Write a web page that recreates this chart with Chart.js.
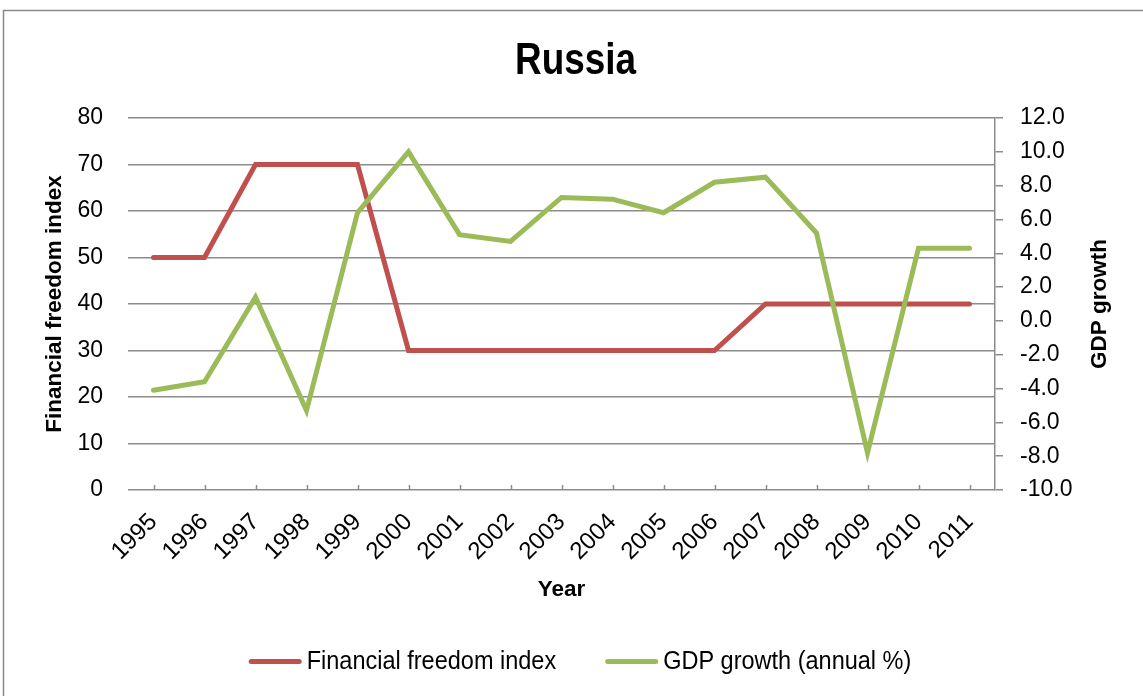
<!DOCTYPE html>
<html>
<head>
<meta charset="utf-8">
<script src="https://cdn.jsdelivr.net/npm/chart.js@4.4.1/dist/chart.umd.min.js"></script>
<style>
  html, body { margin: 0; padding: 0; background: #fff; }
  #wrap { width: 1143px; height: 696px; position: relative; }
</style>
</head>
<body>
<div id="wrap"><canvas id="chart" width="1143" height="696"></canvas></div>
<script>
// Russia: financial freedom index vs. annual GDP growth
const years = ['1995', '1996', '1997', '1998', '1999', '2000', '2001', '2002', '2003',
               '2004', '2005', '2006', '2007', '2008', '2009', '2010', '2011'];
const financialFreedom = [50, 50, 70, 70, 70, 30, 30, 30, 30, 30, 30, 30, 40, 40, 40, 40, 40];
const gdpGrowth = [-4.1, -3.6, 1.4, -5.3, 6.4, 10.0, 5.1, 4.7, 7.3, 7.2, 6.4, 8.2, 8.5, 5.2, -7.8, 4.3, 4.3];
const freedomTicks = [0, 10, 20, 30, 40, 50, 60, 70, 80];
const growthTicks = [-10, -8, -6, -4, -2, 0, 2, 4, 6, 8, 10, 12];

const RED = '#C0504D';
const GREEN = '#9BBB59';
const GRID = '#8c8c8c';
const SANS = '"Liberation Sans", Arial, sans-serif';

// Draws text squeezed horizontally to get a condensed face
function condensedText(ctx, text, x, y, font, squeeze, align) {
  ctx.save();
  ctx.font = font;
  ctx.fillStyle = '#000';
  ctx.textBaseline = 'alphabetic';
  ctx.textAlign = align;
  ctx.translate(x, y);
  ctx.scale(squeeze, 1);
  ctx.fillText(text, 0, 0);
  ctx.restore();
}

// Outer frame around the whole chart
const framePlugin = {
  id: 'frame',
  beforeDraw(chart) {
    const ctx = chart.ctx;
    ctx.save();
    ctx.fillStyle = '#fff';
    ctx.fillRect(0, 0, chart.width, chart.height);
    ctx.strokeStyle = '#8a8a8a';
    ctx.lineWidth = 1.5;
    ctx.strokeRect(3.5, 10.5, chart.width + 20, chart.height + 20);
    ctx.restore();
  }
};

// Short upward tick marks on the category axis, one per year
const categoryTickPlugin = {
  id: 'categoryTicks',
  beforeDatasetsDraw(chart) {
    const x = chart.scales.x;
    const bottom = chart.chartArea.bottom;
    const ctx = chart.ctx;
    ctx.save();
    ctx.strokeStyle = GRID;
    ctx.lineWidth = 1.5;
    ctx.beginPath();
    x.ticks.forEach((t, i) => {
      const px = Math.round(x.getPixelForTick(i)) + 0.5;
      ctx.moveTo(px, bottom);
      ctx.lineTo(px, bottom - 5);
    });
    ctx.stroke();
    ctx.restore();
  }
};

// Chart title, right-axis title and the legend row
const textPlugin = {
  id: 'chartTexts',
  afterDraw(chart) {
    const ctx = chart.ctx;
    const area = chart.chartArea;

    condensedText(ctx, 'Russia', 575.5, 74, 'bold 45px ' + SANS, 0.82, 'center');

    ctx.save();
    ctx.translate(1100, (area.top + area.bottom) / 2);
    ctx.rotate(-Math.PI / 2);
    ctx.font = 'bold 22.5px ' + SANS;
    ctx.fillStyle = '#000';
    ctx.textAlign = 'center';
    ctx.textBaseline = 'middle';
    ctx.fillText('GDP growth', 0, 0);
    ctx.restore();

    // legend: line sample + label per dataset
    const legendFont = '25px ' + SANS;
    const squeeze = 0.94;
    const sample = 53, gapText = 5, gapItem = 49;
    ctx.save();
    ctx.font = legendFont;
    const items = chart.data.datasets.map(ds => ({
      label: ds.label, color: ds.borderColor,
      w: ctx.measureText(ds.label).width * squeeze
    }));
    ctx.restore();
    const total = items.reduce((s, it) => s + sample + gapText + it.w, 0) + gapItem * (items.length - 1);
    let x = 580 - total / 2;
    const lineY = 661.5, baseY = 669;
    items.forEach(it => {
      ctx.save();
      ctx.strokeStyle = it.color;
      ctx.lineWidth = 5;
      ctx.lineCap = 'round';
      ctx.beginPath();
      ctx.moveTo(x + 2.5, lineY);
      ctx.lineTo(x + sample - 2.5, lineY);
      ctx.stroke();
      ctx.restore();
      x += sample + gapText;
      condensedText(ctx, it.label, x, baseY, legendFont, squeeze, 'left');
      x += it.w + gapItem;
    });
  }
};

new Chart(document.getElementById('chart'), {
  type: 'line',
  data: {
    labels: years,
    datasets: [
      {
        label: 'Financial freedom index',
        data: financialFreedom,
        yAxisID: 'y',
        borderColor: RED,
        backgroundColor: RED,
        borderWidth: 5,
        borderCapStyle: 'round',
        borderJoinStyle: 'miter',
        pointRadius: 0,
        tension: 0,
        order: 1
      },
      {
        label: 'GDP growth (annual %)',
        data: gdpGrowth,
        yAxisID: 'y1',
        borderColor: GREEN,
        backgroundColor: GREEN,
        borderWidth: 5,
        borderCapStyle: 'round',
        borderJoinStyle: 'miter',
        pointRadius: 0,
        tension: 0,
        order: 0
      }
    ]
  },
  options: {
    responsive: false,
    animation: false,
    devicePixelRatio: 1,
    layout: { padding: { top: 118, left: 0, right: 0, bottom: 56 } },
    plugins: {
      tooltip: { enabled: false },
      title: { display: false },
      legend: { display: false }
    },
    scales: {
      x: {
        type: 'category',
        offset: true,
        grid: { display: false },
        border: { display: false },
        ticks: {
          color: '#000',
          font: { family: SANS, size: 24 },
          minRotation: 45,
          maxRotation: 45,
          autoSkip: false,
          padding: 10
        },
        title: {
          display: true,
          text: 'Year',
          color: '#000',
          font: { family: SANS, size: 22.5, weight: 'bold' },
          padding: { top: 4, bottom: 37 }
        },
        afterFit(scale) { scale.height = 150; }
      },
      y: {
        position: 'left',
        min: 0,
        max: 80,
        afterBuildTicks(scale) { scale.ticks = freedomTicks.map(v => ({ value: v })); },
        grid: { color: GRID, lineWidth: 1.5, drawTicks: false },
        border: { display: false },
        ticks: {
          color: '#000',
          font: { family: SANS, size: 23 },
          padding: 25
        },
        title: {
          display: true,
          text: 'Financial freedom index',
          color: '#000',
          font: { family: SANS, size: 22.5, weight: 'bold' },
          padding: { top: 41, bottom: 0 }
        },
        afterFit(scale) { scale.width = 128; }
      },
      y1: {
        position: 'right',
        min: -10,
        max: 12,
        afterBuildTicks(scale) { scale.ticks = growthTicks.map(v => ({ value: v })); },
        grid: { drawOnChartArea: false, color: GRID, lineWidth: 1.5, tickLength: 8 },
        border: { display: true, color: GRID, width: 1.5 },
        ticks: {
          color: '#000',
          font: { family: SANS, size: 23 },
          padding: 17,
          callback: v => Number(v).toFixed(1)
        },
        afterFit(scale) { scale.width = 148; }
      }
    }
  },
  plugins: [framePlugin, categoryTickPlugin, textPlugin]
});
</script>
</body>
</html>
